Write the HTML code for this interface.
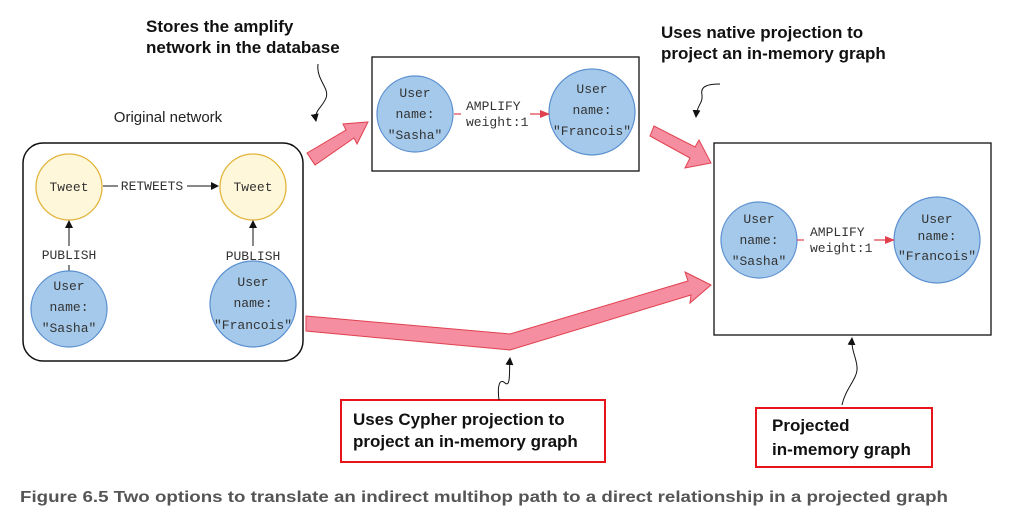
<!DOCTYPE html>
<html><head><meta charset="utf-8"><style>
html,body{margin:0;padding:0;background:#fff;}
svg{display:block;}
.m{font-family:"Liberation Mono",monospace;font-size:13px;fill:#333;}
.b{font-family:"Liberation Sans",sans-serif;font-weight:bold;font-size:17px;fill:#111;}
</style></head><body>
<svg width="1011" height="524" viewBox="0 0 1011 524" xmlns="http://www.w3.org/2000/svg">
<defs>
<marker id="ak" markerWidth="8" markerHeight="8" refX="7" refY="4" orient="auto" markerUnits="userSpaceOnUse"><path d="M0,0 L8,4 L0,8 z" fill="#111"/></marker>
<marker id="ar" markerWidth="10" markerHeight="8" refX="9" refY="4" orient="auto" markerUnits="userSpaceOnUse"><path d="M0,0 L10,4 L0,8 z" fill="#e0414f"/></marker>
</defs>

<text x="168" y="122" text-anchor="middle" font-family="Liberation Sans,sans-serif" font-size="15" fill="#222">Original network</text>
<rect x="23" y="143" width="280" height="218" rx="20" fill="none" stroke="#111" stroke-width="1.5"/>
<circle cx="69" cy="187" r="33" fill="#fff7da" stroke="#e3b43c" stroke-width="1.3"/>
<circle cx="253" cy="187" r="33" fill="#fff7da" stroke="#e3b43c" stroke-width="1.3"/>
<text x="69" y="191" text-anchor="middle" class="m">Tweet</text>
<text x="253" y="191" text-anchor="middle" class="m">Tweet</text>
<line x1="103" y1="186" x2="118" y2="186" stroke="#111"/>
<text x="152" y="190" text-anchor="middle" class="m" font-size="12.5">RETWEETS</text>
<line x1="187" y1="186" x2="218" y2="186" stroke="#111" marker-end="url(#ak)"/>
<line x1="69" y1="246" x2="69" y2="221" stroke="#111" marker-end="url(#ak)"/>
<line x1="69" y1="265" x2="69" y2="271" stroke="#111"/>
<text x="69" y="259" text-anchor="middle" class="m" font-size="12.5">PUBLISH</text>
<line x1="253" y1="246" x2="253" y2="221" stroke="#111" marker-end="url(#ak)"/>
<text x="253" y="260" text-anchor="middle" class="m" font-size="12.5">PUBLISH</text>
<circle cx="69" cy="309" r="38" fill="#a4c9ea" stroke="#5b8fd0" stroke-width="1.2"/>
<text x="69" y="290" text-anchor="middle" class="m">User</text>
<text x="69" y="311" text-anchor="middle" class="m">name:</text>
<text x="69" y="332" text-anchor="middle" class="m">"Sasha"</text>
<circle cx="253" cy="304" r="43" fill="#a4c9ea" stroke="#5b8fd0" stroke-width="1.2"/>
<text x="253" y="286" text-anchor="middle" class="m">User</text>
<text x="253" y="307" text-anchor="middle" class="m">name:</text>
<text x="253" y="329" text-anchor="middle" class="m">"Francois"</text>

<rect x="372" y="57" width="267" height="114" fill="#fff" stroke="#111" stroke-width="1.3"/>
<circle cx="415" cy="114" r="38" fill="#a4c9ea" stroke="#5b8fd0" stroke-width="1.2"/>
<text x="415" y="97" text-anchor="middle" class="m">User</text>
<text x="415" y="118" text-anchor="middle" class="m">name:</text>
<text x="415" y="139" text-anchor="middle" class="m">"Sasha"</text>
<circle cx="592" cy="112" r="43" fill="#a4c9ea" stroke="#5b8fd0" stroke-width="1.2"/>
<text x="592" y="93" text-anchor="middle" class="m">User</text>
<text x="592" y="114" text-anchor="middle" class="m">name:</text>
<text x="592" y="135" text-anchor="middle" class="m">"Francois"</text>
<line x1="454" y1="114" x2="461" y2="114" stroke="#e0414f" stroke-width="1.2"/>
<text x="466" y="110" class="m">AMPLIFY</text>
<text x="466" y="126" class="m">weight:1</text>
<line x1="530" y1="114" x2="549" y2="114" stroke="#e0414f" stroke-width="1.2" marker-end="url(#ar)"/>

<rect x="714" y="143" width="277" height="192" fill="#fff" stroke="#111" stroke-width="1.3"/>
<circle cx="759" cy="240" r="38" fill="#a4c9ea" stroke="#5b8fd0" stroke-width="1.2"/>
<text x="759" y="223" text-anchor="middle" class="m">User</text>
<text x="759" y="244" text-anchor="middle" class="m">name:</text>
<text x="759" y="265" text-anchor="middle" class="m">"Sasha"</text>
<circle cx="937" cy="240" r="43" fill="#a4c9ea" stroke="#5b8fd0" stroke-width="1.2"/>
<text x="937" y="223" text-anchor="middle" class="m">User</text>
<text x="937" y="240" text-anchor="middle" class="m">name:</text>
<text x="937" y="260" text-anchor="middle" class="m">"Francois"</text>
<line x1="797" y1="240" x2="804" y2="240" stroke="#e0414f" stroke-width="1.2"/>
<text x="810" y="236" class="m">AMPLIFY</text>
<text x="810" y="252" class="m">weight:1</text>
<line x1="874" y1="240" x2="894" y2="240" stroke="#e0414f" stroke-width="1.2" marker-end="url(#ar)"/>

<g fill="#f48ea0" stroke="#e0414f" stroke-width="1">
<path d="M307,153 L346,130 L343,124 L368,122 L357,144 L354,138 L315,165 Z"/>
<path d="M650,136 L654,126 L695,147 L699,140 L711,163 L685,168 L690,158 Z"/>
<path d="M306,316 L510,334 L688,281 L685,272 L711,285 L690,303 L691,295 L510,350 L306,331 Z"/>
</g>

<text x="146" y="32" class="b">Stores the amplify</text>
<text x="146" y="53" class="b">network in the database</text>
<path d="M318,64 C316,80 330,88 326,98 C322,108 314,110 316,121" fill="none" stroke="#111" marker-end="url(#ak)"/>
<text x="661" y="38" class="b">Uses native projection to</text>
<text x="661" y="59" class="b">project an in-memory graph</text>
<path d="M720,84 C708,84 700,86 702,95 C703,104 697,104 696,117" fill="none" stroke="#111" marker-end="url(#ak)"/>

<rect x="341" y="400" width="264" height="62" fill="#fff" stroke="#e8141c" stroke-width="2"/>
<text x="353" y="425" class="b">Uses Cypher projection to</text>
<text x="353" y="447" class="b">project an in-memory graph</text>
<path d="M499,400 C497,385 500,378 505,383 C511,388 509,370 510,358" fill="none" stroke="#111" marker-end="url(#ak)"/>

<rect x="756" y="408" width="176" height="59" fill="#fff" stroke="#e8141c" stroke-width="2"/>
<text x="772" y="431" class="b">Projected</text>
<text x="772" y="455" class="b">in-memory graph</text>
<path d="M842,405 C845,390 856,380 857,370 C858,360 851,352 852,338" fill="none" stroke="#111" marker-end="url(#ak)"/>

<text x="20" y="502" font-family="Liberation Sans,sans-serif" font-weight="bold" font-size="16" fill="#555" textLength="928" lengthAdjust="spacingAndGlyphs">Figure 6.5   Two options to translate an indirect multihop path to a direct relationship in a projected graph</text>
</svg>
</body></html>
